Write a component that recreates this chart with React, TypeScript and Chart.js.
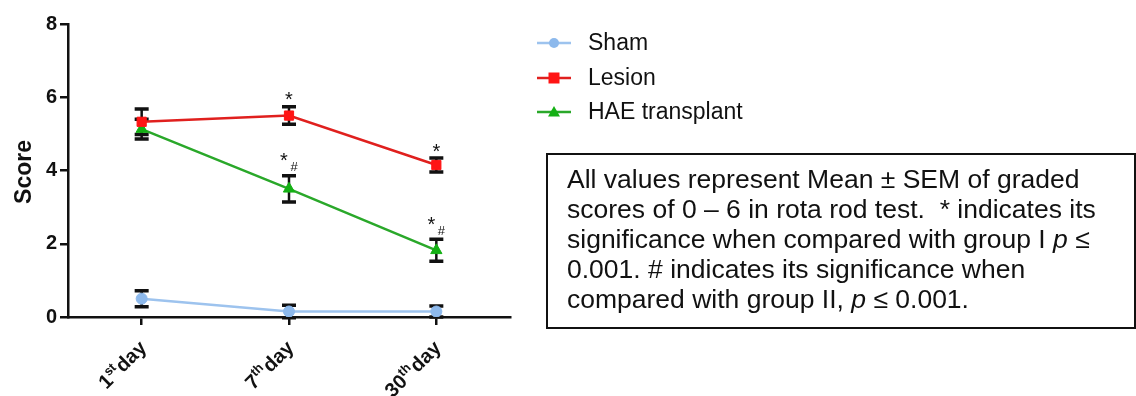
import React, { useEffect, useRef } from 'react';
import { Chart, registerables } from 'chart.js';
Chart.register(...registerables);

const tickNumbers = ['1', '7', '30'];
const tickSups = ['st', 'th', 'th'];
const tickWord = 'day';
const categories = tickNumbers.map((n, i) => `${n}${tickSups[i]} ${tickWord}`);

const seriesNames = ['Sham', 'Lesion', 'HAE transplant'];
const shamValues = [0.5, 0.15, 0.15];
const shamErrors = [0.22, 0.17, 0.15];
const lesionValues = [5.33, 5.5, 4.15];
const lesionErrors = [0.35, 0.24, 0.19];
const haeValues = [5.13, 3.5, 1.82];
const haeErrors = [0.27, 0.36, 0.3];
const shamMarks = ['', '', ''];
const lesionMarks = ['', '*', '*'];
const haeMarks = ['', '*#', '*#'];
const yTicks = [0, 2, 4, 6, 8];
const yTitle = 'Score';
// each line: segments of [text, italic]
const noteLines: [string, boolean][][] = [
  [['All values represent Mean ± SEM of graded', false]],
  [['scores of 0 – 6 in rota rod test.  * indicates its', false]],
  [['significance when compared with group I ', false], ['p', true], [' ≤', false]],
  [['0.001. # indicates its significance when', false]],
  [['compared with group II, ', false], ['p', true], [' ≤ 0.001.', false]],
];

const FONT = 'Arial, "Liberation Sans", Helvetica, sans-serif';
const errorSets = [shamErrors, lesionErrors, haeErrors];
const markSets = [shamMarks, lesionMarks, haeMarks];
const lineColors = ['#9dc3ee', '#e0201e', '#2aa82a'];
const pointColors = ['#8db9ec', '#ff1414', '#14b014'];
const pointStyles = ['circle', 'rect', 'triangle'];

const overlay = {
  id: 'overlay',
  beforeDatasetsDraw(chart: any) {
    const ctx = chart.ctx;
    const ys = chart.scales.y;
    ctx.save();
    ctx.strokeStyle = '#111';
    chart.data.datasets.forEach((ds: any, di: number) => {
      const meta = chart.getDatasetMeta(di);
      meta.data.forEach((pt: any, j: number) => {
        const v = ds.data[j];
        const e = errorSets[di][j];
        const yt = ys.getPixelForValue(v + e);
        const yb = ys.getPixelForValue(v - e);
        ctx.lineWidth = 2.5;
        ctx.beginPath();
        ctx.moveTo(pt.x, yt);
        ctx.lineTo(pt.x, yb);
        ctx.stroke();
        ctx.lineWidth = 3.5;
        ctx.beginPath();
        ctx.moveTo(pt.x - 7, yt);
        ctx.lineTo(pt.x + 7, yt);
        ctx.moveTo(pt.x - 7, yb);
        ctx.lineTo(pt.x + 7, yb);
        ctx.stroke();
      });
    });
    ctx.restore();
  },
  afterDraw(chart: any) {
    const ctx = chart.ctx;
    const xs = chart.scales.x;
    const ys = chart.scales.y;
    ctx.save();
    ctx.fillStyle = '#111';
    // significance marks
    chart.data.datasets.forEach((ds: any, di: number) => {
      const meta = chart.getDatasetMeta(di);
      meta.data.forEach((pt: any, j: number) => {
        const m = markSets[di][j];
        if (!m) return;
        const yt = ys.getPixelForValue(ds.data[j] + errorSets[di][j]);
        ctx.textAlign = 'center';
        ctx.textBaseline = 'alphabetic';
        if (m === '*') {
          ctx.font = `20px ${FONT}`;
          ctx.fillText('*', pt.x, yt - 12 + 11.5);
        } else {
          ctx.font = `20px ${FONT}`;
          ctx.fillText('*', pt.x - 5, yt - 20 + 11.5);
          ctx.font = `13px ${FONT}`;
          ctx.fillText('#', pt.x + 5, yt - 9 + 4.6);
        }
      });
    });
    // x tick labels with superscripts
    tickNumbers.forEach((n, i) => {
      const x = xs.getPixelForTick(i);
      ctx.save();
      ctx.translate(x + 2, xs.top + 28);
      ctx.rotate(-Math.PI / 4);
      ctx.textBaseline = 'middle';
      ctx.textAlign = 'left';
      const big = `bold 20px ${FONT}`;
      const small = `bold 13px ${FONT}`;
      ctx.font = big;
      const wWord = ctx.measureText(tickWord).width;
      const wNum = ctx.measureText(n).width;
      ctx.font = small;
      const wSup = ctx.measureText(tickSups[i]).width;
      let cx = -(wNum + wSup + 1 + wWord);
      ctx.font = big;
      ctx.fillText(n, cx, 0);
      cx += wNum;
      ctx.font = small;
      ctx.fillText(tickSups[i], cx, -6);
      cx += wSup + 1;
      ctx.font = big;
      ctx.fillText(tickWord, cx, 0);
      ctx.restore();
    });
    // y title
    ctx.save();
    ctx.translate(31, 172);
    ctx.rotate(-Math.PI / 2);
    ctx.textAlign = 'center';
    ctx.textBaseline = 'alphabetic';
    ctx.font = `bold 23px ${FONT}`;
    ctx.fillText(yTitle, 0, 0);
    ctx.restore();
    // legend
    const legY = [43, 78, 112];
    seriesNames.forEach((name, i) => {
      const y = legY[i];
      ctx.strokeStyle = lineColors[i];
      ctx.lineWidth = 2.5;
      ctx.beginPath();
      ctx.moveTo(537, y);
      ctx.lineTo(571, y);
      ctx.stroke();
      ctx.fillStyle = pointColors[i];
      ctx.beginPath();
      if (pointStyles[i] === 'circle') {
        ctx.arc(554, y, 5, 0, Math.PI * 2);
      } else if (pointStyles[i] === 'rect') {
        ctx.rect(548.5, y - 5.5, 11, 11);
      } else {
        ctx.moveTo(554, y - 6);
        ctx.lineTo(560, y + 4.5);
        ctx.lineTo(548, y + 4.5);
        ctx.closePath();
      }
      ctx.fill();
      ctx.fillStyle = '#111';
      ctx.font = `23px ${FONT}`;
      ctx.textAlign = 'left';
      ctx.textBaseline = 'middle';
      ctx.fillText(name, 588, y + 1);
    });
    // note box
    ctx.strokeStyle = '#111';
    ctx.lineWidth = 2;
    ctx.strokeRect(547, 154, 588, 174);
    ctx.fillStyle = '#111';
    ctx.textBaseline = 'alphabetic';
    ctx.textAlign = 'left';
    noteLines.forEach((segs, li) => {
      let x = 567;
      const y = 188 + li * 30;
      segs.forEach(([t, it]) => {
        ctx.font = `${it ? 'italic ' : ''}26.5px ${FONT}`;
        ctx.fillText(t, x, y);
        x += ctx.measureText(t).width;
      });
    });
    ctx.restore();
  },
};

export default function App() {
  const ref = useRef<HTMLCanvasElement>(null);
  useEffect(() => {
    document.body.style.margin = '0';
    const valueSets = [shamValues, lesionValues, haeValues];
    const axisGrid = {
      display: true,
      drawOnChartArea: false,
      drawTicks: true,
      tickLength: 8,
      color: '#111',
      lineWidth: 2.5,
      offset: false,
    };
    const chart = new Chart(ref.current!, {
      type: 'line',
      data: {
        labels: categories,
        datasets: seriesNames.map((name, i) => ({
          label: name,
          data: valueSets[i],
          borderColor: lineColors[i],
          backgroundColor: pointColors[i],
          pointBackgroundColor: pointColors[i],
          pointBorderColor: pointColors[i],
          pointBorderWidth: 1,
          borderWidth: 2.5,
          pointStyle: pointStyles[i] as any,
          pointRadius: i === 0 ? 5.5 : 6.5,
          fill: false,
          tension: 0,
        })),
      },
      options: {
        responsive: false,
        animation: false,
        layout: { padding: { top: 24, right: 626, left: 0, bottom: 0 } },
        plugins: { legend: { display: false }, tooltip: { enabled: false } },
        scales: {
          x: {
            type: 'category',
            offset: true,
            grid: axisGrid as any,
            border: { display: true, color: '#111', width: 2.5 },
            ticks: { display: false },
            afterFit: (s: any) => {
              s.height = 79;
            },
          },
          y: {
            min: 0,
            max: 8,
            afterBuildTicks: (s: any) => {
              s.ticks = yTicks.map((v) => ({ value: v }));
            },
            grid: axisGrid as any,
            border: { display: true, color: '#111', width: 2.5 },
            ticks: {
              color: '#111',
              padding: 3,
              font: { family: FONT, size: 20, weight: 'bold' },
            },
            afterFit: (s: any) => {
              s.width = 68;
            },
          },
        },
      },
      plugins: [overlay],
    });
    return () => chart.destroy();
  }, []);
  return <canvas ref={ref} width={1136} height={396} style={{ display: 'block' }} />;
}
